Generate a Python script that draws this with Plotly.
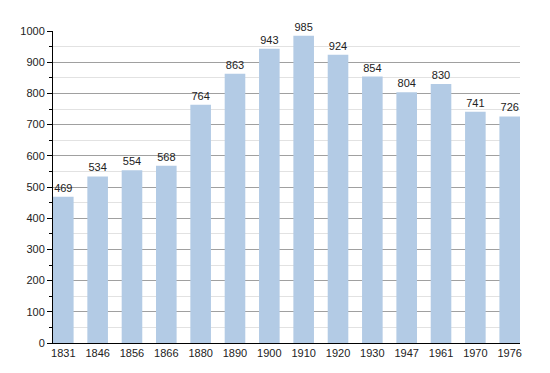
import plotly.graph_objects as go

years = ["1831", "1846", "1856", "1866", "1880", "1890", "1900", "1910", "1920", "1930", "1947", "1961", "1970", "1976"]
population = [469, 534, 554, 568, 764, 863, 943, 985, 924, 854, 804, 830, 741, 726]

xpos = list(range(len(years)))
w = 0.6

fig = go.Figure(go.Bar(
    x=xpos, y=population, width=w,
    marker=dict(color="#b3cbe5", line=dict(width=0)),
    text=[str(v) for v in population], textposition="outside",
    textfont=dict(family="Liberation Sans, Arial", size=11, color="#222"),
    cliponaxis=False,
))

fig.update_layout(
    width=542, height=365,
    margin=dict(l=42, r=30, t=23, b=30),
    plot_bgcolor="white", paper_bgcolor="white",
    showlegend=False,
    font=dict(family="Liberation Sans, Arial", size=11, color="#222"),
    xaxis=dict(
        tickmode="array", tickvals=xpos, ticktext=years,
        range=[-w / 2, len(years) - 1 + w / 2],
        showgrid=False, showline=True, linecolor="black", linewidth=1,
        ticks="", zeroline=False, tickfont=dict(size=11),
    ),
    yaxis=dict(
        range=[0, 1000], dtick=100, tick0=0,
        showgrid=True, gridcolor="#a0a0a0", gridwidth=1,
        showline=True, linecolor="black", linewidth=1,
        ticks="outside", ticklen=5, tickcolor="black",
        zeroline=False, tickfont=dict(size=11),
        minor=dict(dtick=50, showgrid=True, gridcolor="#e2e2e2",
                   ticks="outside", ticklen=3, tickcolor="black"),
    ),
)

fig.write_html("out.html")
